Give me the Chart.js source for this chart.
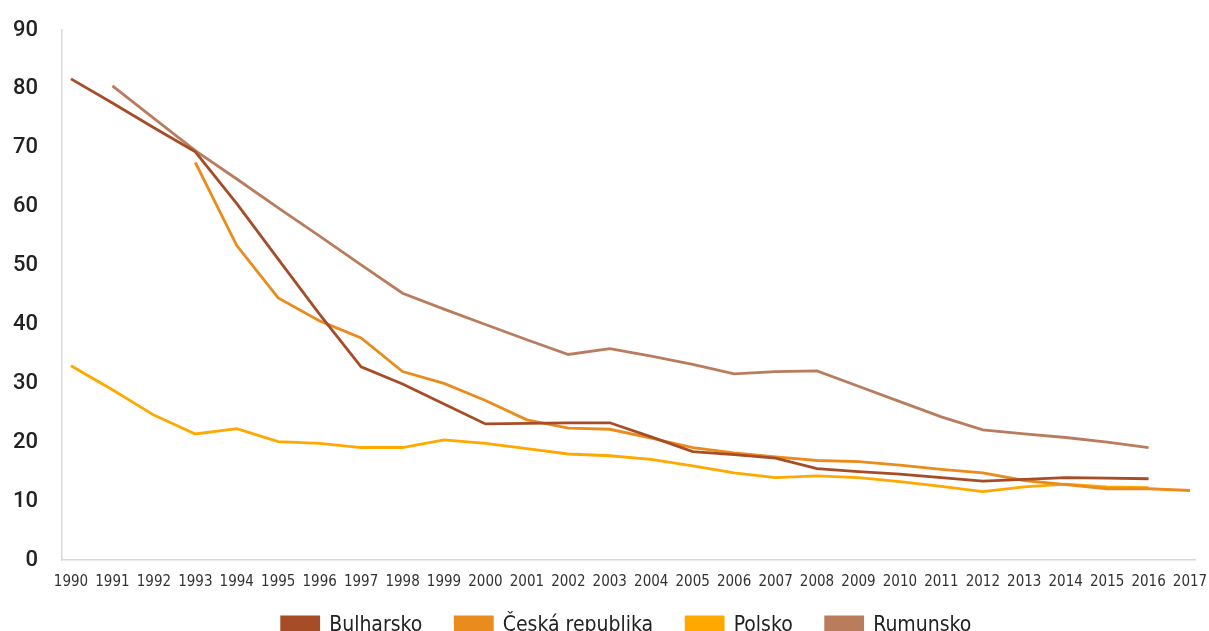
<!DOCTYPE html>
<html>
<head>
<meta charset="utf-8">
<script src="https://cdn.jsdelivr.net/npm/chart.js@4"></script>
<style>
  html, body { margin: 0; padding: 0; background: #fff; overflow: hidden; }
  #wrap { width: 1209px; height: 664px; }
</style>
</head>
<body>
<div id="wrap"><canvas id="c" width="1209" height="664"></canvas></div>
<script>
// Years on the horizontal axis
const years = [1990, 1991, 1992, 1993, 1994, 1995, 1996, 1997, 1998, 1999,
               2000, 2001, 2002, 2003, 2004, 2005, 2006, 2007, 2008, 2009,
               2010, 2011, 2012, 2013, 2014, 2015, 2016, 2017];

// Series values per year (null = no data)
const bulharsko = [81.7, 77.6, 73.4, 69.3, 60.5, 51.1, 41.7, 32.8, 29.9, 26.5,
                   23.1, 23.2, 23.3, 23.3, 20.9, 18.4, 17.9, 17.3, 15.5, 15.0,
                   14.6, 14.0, 13.4, 13.7, 14.0, 13.9, 13.8, null];
const ceska = [null, null, null, 67.5, 53.4, 44.5, 40.6, 37.7, 32.0, 30.0,
               27.1, 23.8, 22.4, 22.2, 20.7, 19.1, 18.2, 17.5, 16.9, 16.7,
               16.1, 15.4, 14.8, 13.5, 12.8, 12.1, 12.1, 11.8];
const polsko = [33.0, 28.9, 24.6, 21.4, 22.3, 20.1, 19.8, 19.1, 19.1, 20.4,
                19.8, 18.9, 18.0, 17.7, 17.1, 16.0, 14.8, 14.0, 14.3, 14.0,
                13.3, 12.5, 11.6, 12.4, 12.9, 12.4, 12.3, null];
const rumunsko = [null, 80.5, 75.0, 69.5, 64.7, 59.8, 55.0, 50.1, 45.3, 42.6,
                  40.0, 37.4, 34.9, 35.9, 34.6, 33.2, 31.6, 32.0, 32.1, 29.5,
                  26.9, 24.3, 22.1, 21.4, 20.8, 20.0, 19.1, null];

// Value axis tick labels
const yTicks = [0, 10, 20, 30, 40, 50, 60, 70, 80, 90];

const seriesNames = ['Bulharsko', 'Česká republika', 'Polsko', 'Rumunsko'];
const seriesColors = ['#A64D28', '#EA8B1E', '#FFA800', '#B97D5E'];
const seriesValues = [bulharsko, ceska, polsko, rumunsko];

const toPoints = arr => years.map((yr, i) => ({ x: yr, y: arr[i] }));

const narrow = '"Liberation Sans Narrow", "DejaVu Sans Condensed", "Roboto", sans-serif';

// Place the legend row just under the year labels, centred on the plot
const legendPlace = {
  id: 'legendPlace',
  afterLayout(chart) {
    const lg = chart.legend;
    if (lg) {
      lg.top -= 18; lg.bottom -= 18;
      lg.left += 29; lg.right += 29;
    }
  }
};

new Chart(document.getElementById('c'), {
  type: 'line',
  plugins: [legendPlace],
  data: {
    datasets: seriesNames.map((name, k) => ({
      label: name,
      data: toPoints(seriesValues[k]),
      borderColor: seriesColors[k],
      backgroundColor: seriesColors[k],
      borderWidth: 2.8,
      pointRadius: 0,
      tension: 0,
      spanGaps: false
    }))
  },
  options: {
    responsive: false,
    animation: false,
    layout: { padding: { top: 30, right: 14, bottom: 0, left: 0 } },
    plugins: {
      tooltip: { enabled: false },
      legend: {
        position: 'bottom',
        labels: {
          boxWidth: 37,
          boxHeight: 17,
          padding: 33,
          color: '#222',
          font: { family: narrow, size: 21 }
        }
      }
    },
    scales: {
      x: {
        type: 'linear',
        min: 1989.783,
        max: 2017.12,
        grid: { display: false },
        border: { display: true, color: '#D9D9D9', width: 1.5 },
        afterBuildTicks: s => { s.ticks = years.map(v => ({ value: v })); },
        afterFit: s => { s.height = 40; s.paddingLeft = 0; s.paddingRight = 0; },
        ticks: {
          autoSkip: false,
          maxRotation: 0,
          padding: 5,
          color: '#333',
          font: { family: narrow, size: 15 },
          callback: v => String(v)
        }
      },
      y: {
        min: 0,
        max: 90,
        grid: { display: false },
        border: { display: true, color: '#D9D9D9', width: 1.5 },
        afterBuildTicks: s => { s.ticks = yTicks.map(v => ({ value: v })); },
        afterFit: s => { s.width = 62; s.paddingTop = 0; s.paddingBottom = 0; },
        ticks: {
          padding: 16,
          color: '#222',
          font: { family: 'Roboto, sans-serif', size: 22, weight: '500' }
        }
      }
    }
  }
});
</script>
</body>
</html>
